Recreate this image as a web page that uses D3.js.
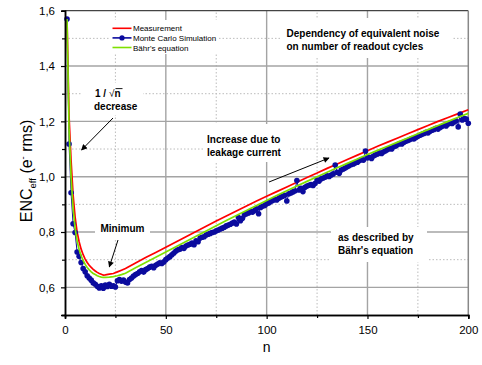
<!DOCTYPE html>
<html>
<head>
<meta charset="utf-8">
<script src="https://cdn.jsdelivr.net/npm/d3@7"></script>
<style>
  html, body { margin: 0; padding: 0; background: #fff; }
  svg { display: block; }
  text { font-family: "Liberation Sans", Arial, Helvetica, sans-serif; }
</style>
</head>
<body>
<svg id="chart" width="482" height="365"></svg>
<script>
// Measured ENC (red) and Bähr's equation (green), sampled along n
const lineN = [1,2,3,4,5,6,7,8,9,10,11,12,13,14,15,16,17,18,19,20,
  22,24,26,28,30,35,40,45,50,
  55,60,65,70,75,80,85,90,95,100,105,110,115,120,125,130,135,140,145,150,
  155,160,165,170,175,180,185,190,195,200];
const measurement = [1.57,1.22,1.06,0.935,0.855,0.80,0.765,0.738,0.718,0.702,0.69,0.68,0.672,0.665,0.659,0.654,0.65,0.647,0.644,0.645,
  0.648,0.650,0.656,0.662,0.668,0.688,0.708,0.726,0.745,
  0.764,0.783,0.802,0.821,0.840,0.858,0.876,0.894,0.912,0.929,0.946,0.963,0.980,0.997,1.013,1.030,1.046,1.062,1.078,1.094,
  1.110,1.125,1.140,1.155,1.170,1.185,1.200,1.214,1.228,1.242];
const baehr = [1.57,1.17,1.0,0.885,0.815,0.768,0.737,0.714,0.697,0.683,0.672,0.663,0.656,0.650,0.646,0.642,0.639,0.637,0.636,0.636,
  0.637,0.639,0.642,0.646,0.651,0.671,0.690,0.709,0.728,
  0.747,0.766,0.785,0.804,0.823,0.842,0.860,0.878,0.896,0.914,0.932,0.949,0.966,0.983,1.000,1.016,1.032,1.048,1.064,1.080,
  1.095,1.110,1.125,1.140,1.155,1.170,1.185,1.200,1.215,1.229];

// Monte Carlo simulation, one value per readout cycle n = 1..200
const monteCarlo = [
  1.570,1.118,0.942,0.830,0.798,0.728,0.712,0.690,0.668,0.656,
  0.642,0.634,0.626,0.616,0.611,0.604,0.598,0.606,0.597,0.608,
  0.603,0.611,0.604,0.606,0.601,0.624,0.628,0.622,0.626,0.619,
  0.616,0.628,0.634,0.641,0.646,0.650,0.656,0.661,0.655,0.664,
  0.668,0.673,0.676,0.671,0.680,0.684,0.689,0.686,0.692,0.700,
  0.706,0.711,0.718,0.724,0.731,0.736,0.738,0.744,0.741,0.749,
  0.753,0.756,0.760,0.754,0.768,0.765,0.778,0.781,0.783,0.789,
  0.792,0.795,0.798,0.800,0.804,0.807,0.811,0.814,0.817,0.822,
  0.825,0.828,0.832,0.836,0.829,0.852,0.841,0.850,0.862,0.866,
  0.869,0.874,0.872,0.878,0.884,0.866,0.889,0.893,0.896,0.902,
  0.905,0.910,0.914,0.918,0.916,0.922,0.926,0.929,0.933,0.912,
  0.938,0.941,0.945,0.948,0.986,0.952,0.958,0.946,0.962,0.966,
  0.969,0.972,0.968,0.975,0.988,0.984,0.992,0.995,0.998,1.003,
  1.001,1.006,1.010,1.042,1.016,1.012,1.024,1.028,1.031,1.036,
  1.040,1.044,1.046,1.050,1.052,1.058,1.062,1.060,1.093,1.068,
  1.070,1.066,1.075,1.079,1.082,1.086,1.084,1.090,1.094,1.098,
  1.102,1.100,1.108,1.111,1.116,1.120,1.118,1.124,1.128,1.131,
  1.134,1.138,1.136,1.142,1.146,1.150,1.153,1.156,1.160,1.158,
  1.164,1.168,1.171,1.175,1.172,1.178,1.182,1.186,1.183,1.190,
  1.194,1.192,1.198,1.202,1.180,1.226,1.205,1.210,1.208,1.193
];

const xMajor = [0,50,100,150,200];
const xMinor = [25,75,125,175];
const yMajor = [0.6,0.8,1.0,1.2,1.4,1.6];
const yMinor = [0.5,0.7,0.9,1.1,1.3,1.5];

const seriesNames = ["Measurement","Monte Carlo Simulation","Bähr's equation"];
const seriesColors = ["#ff0000","#0b0b9e","#7ee000"];

const svg = d3.select("#chart");
const x = d3.scaleLinear().domain([0,200]).range([65,468.3]);
const y = d3.scaleLinear().domain([0.5,1.6]).range([315,10.7]);
const [x0,x1] = x.range();
const [y0,y1] = y.range();

// grid
const grid = svg.append("g");
grid.selectAll(".vmin").data(xMinor).join("line")
  .attr("x1",d=>x(d)).attr("x2",d=>x(d)).attr("y1",y0).attr("y2",y1)
  .attr("stroke","#bcbcbc").attr("stroke-width",1).attr("stroke-dasharray","1.5,2");
grid.selectAll(".hmin").data(yMinor.filter(d=>d>0.5)).join("line")
  .attr("y1",d=>y(d)).attr("y2",d=>y(d)).attr("x1",x0).attr("x2",x1)
  .attr("stroke","#bcbcbc").attr("stroke-width",1).attr("stroke-dasharray","1.5,2");
grid.selectAll(".vmaj").data([50,100,150]).join("line")
  .attr("x1",d=>x(d)).attr("x2",d=>x(d)).attr("y1",y0).attr("y2",y1)
  .attr("stroke","#a4a4a4").attr("stroke-width",1.4);
grid.selectAll(".hmaj").data([0.6,0.8,1.0,1.2,1.4]).join("line")
  .attr("y1",d=>y(d)).attr("y2",d=>y(d)).attr("x1",x0).attr("x2",x1)
  .attr("stroke","#a4a4a4").attr("stroke-width",1.4);

// white backing boxes for the annotations
const boxes = [
  [110,20,108,34],   // legend
  [281,18,171,40],   // title note
  [82,83,61,32],     // 1/sqrt(n) decrease
  [95,220,55,20],    // Minimum
  [203,124,87,38],   // Increase due to leakage current
  [331,227,96,35]    // as described by Bähr's equation
];
svg.append("g").selectAll("rect").data(boxes).join("rect")
  .attr("x",d=>d[0]).attr("y",d=>d[1]).attr("width",d=>d[2]).attr("height",d=>d[3])
  .attr("fill","#fff");

// frame
svg.append("line").attr("x1",x0).attr("x2",x1).attr("y1",y1).attr("y2",y1)
  .attr("stroke","#444").attr("stroke-width",1.2);
svg.append("line").attr("x1",x1).attr("x2",x1).attr("y1",y1).attr("y2",y0)
  .attr("stroke","#888").attr("stroke-width",1.5);

// data
const lineGen = d3.line().x(d=>x(d[0])).y(d=>y(d[1]));
const redPts = lineN.map((n,i)=>[n,measurement[i]]);
const greenPts = lineN.map((n,i)=>[n,baehr[i]]);
const bluePts = monteCarlo.map((v,i)=>[i+1,v]);

svg.append("path").attr("d",lineGen(redPts)).attr("fill","none")
  .attr("stroke",seriesColors[0]).attr("stroke-width",1.7);
svg.append("path").attr("d",lineGen(bluePts)).attr("fill","none")
  .attr("stroke",seriesColors[1]).attr("stroke-width",1);
svg.append("g").selectAll("circle").data(bluePts).join("circle")
  .attr("cx",d=>x(d[0])).attr("cy",d=>y(d[1])).attr("r",2.8)
  .attr("fill",seriesColors[1]);
svg.append("path").attr("d",lineGen(greenPts)).attr("fill","none")
  .attr("stroke",seriesColors[2]).attr("stroke-width",1.7);

// axes
const fmt = d => d.toFixed(1).replace(".", ",");
const yAxis = svg.append("g").attr("transform",`translate(${x0},0)`)
  .call(d3.axisLeft(y).tickValues(yMajor).tickFormat(fmt).tickSize(4).tickPadding(6));
const yAxisMinor = svg.append("g").attr("transform",`translate(${x0},0)`)
  .call(d3.axisLeft(y).tickValues(yMinor).tickFormat("").tickSize(3));
const xAxis = svg.append("g").attr("transform",`translate(0,${y0})`)
  .call(d3.axisBottom(x).tickValues(xMajor).tickFormat(d3.format("d")).tickSize(4).tickPadding(7));
const xAxisMinor = svg.append("g").attr("transform",`translate(0,${y0})`)
  .call(d3.axisBottom(x).tickValues(xMinor).tickFormat("").tickSize(3));
[yAxis,yAxisMinor,xAxis,xAxisMinor].forEach(g=>{
  g.select(".domain").attr("stroke","#000").attr("stroke-width",1.5);
  g.selectAll(".tick line").attr("stroke","#000").attr("stroke-width",1.2);
  g.selectAll("text").attr("font-family","Liberation Sans, Arial, sans-serif")
    .attr("font-size",11.5).attr("fill","#000");
});

// axis titles
svg.append("text").attr("x",(x0+x1)/2).attr("y",352).attr("text-anchor","middle")
  .attr("font-size",14).text("n");
const yt = svg.append("text").attr("transform","translate(32,171) rotate(-90)")
  .attr("text-anchor","middle").attr("font-size",16);
yt.append("tspan").text("ENC");
yt.append("tspan").attr("font-size",9.5).attr("dy",4).text("eff");
yt.append("tspan").attr("dy",-4).text(" (e");
yt.append("tspan").attr("font-size",9.5).attr("dy",-6).text("-");
yt.append("tspan").attr("dy",6).text(" rms)");

// legend
const leg = svg.append("g");
seriesNames.forEach((name,i)=>{
  const ly = 28.3 + i*9.6;
  leg.append("line").attr("x1",112.5).attr("x2",131.5).attr("y1",ly).attr("y2",ly)
    .attr("stroke",seriesColors[i]).attr("stroke-width",1.6);
  if (i===1) leg.append("circle").attr("cx",122).attr("cy",ly).attr("r",2.6).attr("fill",seriesColors[1]);
  leg.append("text").attr("x",133).attr("y",ly+3).attr("font-size",8).text(name);
});

// annotations
const note = (lines,xp,yp,dy) => {
  const t = svg.append("text").attr("font-size",10).attr("font-weight","bold");
  lines.forEach((s,i)=>t.append("tspan").attr("x",xp).attr("y",yp+i*dy).text(s));
};
note(["Dependency of equivalent noise","on number of readout cycles"],286.5,36.7,13.5);
note(["Increase due to","leakage current"],207,143,13);
note(["as described by","Bähr's equation"],338,241,12.5);
note(["Minimum"],100.5,232,0);
note(["decrease"],94,110,0);

// 1 / sqrt(n)
const r = svg.append("text").attr("x",95).attr("y",97).attr("font-size",10).attr("font-weight","bold");
r.append("tspan").text("1 / ");
r.append("tspan").attr("font-weight","normal").text("\u221A");
r.append("tspan").text("n");
svg.append("line").attr("x1",115.5).attr("x2",122.5).attr("y1",88.6).attr("y2",88.6)
  .attr("stroke","#000").attr("stroke-width",0.9);

// arrows
const defs = svg.append("defs");
defs.append("marker").attr("id","head").attr("viewBox","0 0 10 10")
  .attr("refX",9).attr("refY",5).attr("markerWidth",7).attr("markerHeight",6)
  .attr("markerUnits","userSpaceOnUse").attr("orient","auto")
  .append("path").attr("d","M0,0 L10,5 L0,10 z").attr("fill","#000");
const arrows = [
  [113,118,81.5,150],
  [118,240,109.3,267],
  [269,182,329,158]
];
svg.append("g").selectAll("line").data(arrows).join("line")
  .attr("x1",d=>d[0]).attr("y1",d=>d[1]).attr("x2",d=>d[2]).attr("y2",d=>d[3])
  .attr("stroke","#000").attr("stroke-width",1).attr("marker-end","url(#head)");
</script>
</body>
</html>
